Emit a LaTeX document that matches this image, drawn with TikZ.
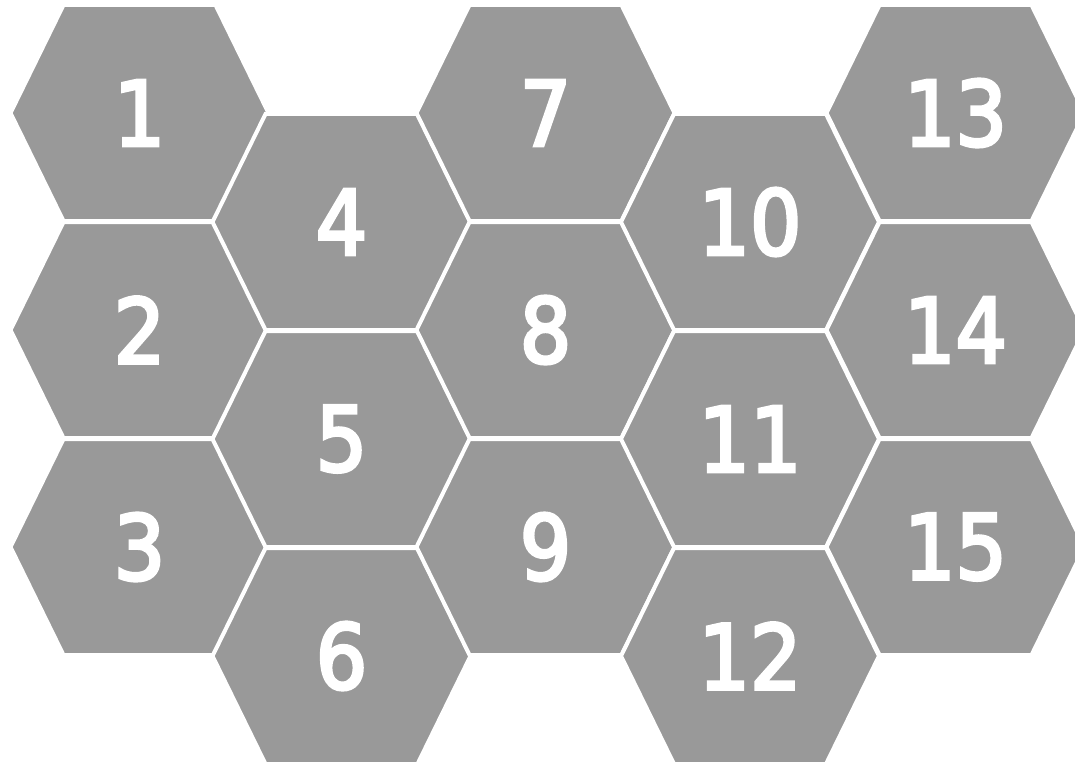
\documentclass[tikz,border=0pt]{standalone}
\usepackage{fontspec}
\newfontfamily\hexfont[FakeBold=3.5]{DejaVu Sans Condensed}
\definecolor{hexgray}{RGB}{153,153,153}

\begin{document}
\begin{tikzpicture}[
  x=1pt, y=-1pt,
  hexcell/.style={fill=hexgray, draw=white, line width=4pt, line join=miter},
  numtext/.style={text=white, inner sep=0pt, font={\hexfont\fontsize{90}{90}\selectfont}}
]
\useasboundingbox (0,0) rectangle (1075,765);
\clip (0,0) rectangle (1075,765);
% five columns of three cells, every other column shifted down
\foreach \col/\cx/\cy in {0/139.5/113, 1/341.5/222, 2/545.5/113, 3/750/222, 4/955.5/113} {
  \foreach \row in {0,1,2} {
    \pgfmathsetmacro\n{int(3*\col+\row+1)}
    \pgfmathsetmacro\cyy{\cy+217*\row}
    \draw[hexcell, shift={(\cx,\cyy)}] (-129,0) -- (-76,-108) -- (76,-108)
      -- (129,0) -- (76,108) -- (-76,108) -- cycle;
    \node[numtext] (hex\n) at (\cx,\cyy) {\n};
  }
}
\end{tikzpicture}
\end{document}
